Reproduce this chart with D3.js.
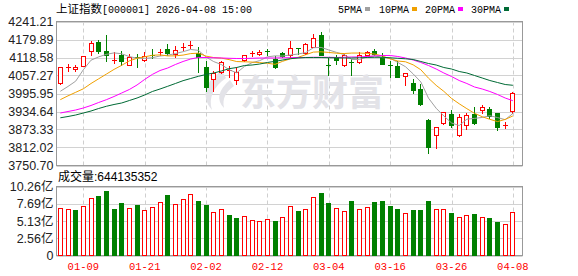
<!DOCTYPE html>
<html>
<head>
<meta charset="utf-8">
<script src="https://cdn.jsdelivr.net/npm/d3@7"></script>
<style>
body { margin: 0; background: #fff; }
svg { display: block; }
</style>
</head>
<body>
<svg width="578" height="276"></svg>
<script>
var dates = ["01-06","01-07","01-08","01-09","01-12","01-13","01-14","01-15","01-16","01-19",
  "01-20","01-21","01-22","01-23","01-26","01-27","01-28","01-29","01-30","02-02",
  "02-03","02-04","02-05","02-06","02-09","02-10","02-11","02-12","02-13","02-24",
  "02-25","02-26","02-27","03-02","03-03","03-04","03-05","03-06","03-09","03-10",
  "03-11","03-12","03-13","03-16","03-17","03-18","03-19","03-20","03-23","03-24",
  "03-25","03-26","03-27","03-30","03-31","04-01","04-02","04-03","04-07","04-08"];

var open = [4030.7,4084.0,4078.4,4090.7,4139.7,4171.4,4139.7,4110.2,4126.1,4094.1,
  4119.3,4109.1,4128.1,4136.3,4148.6,4130.5,4153.3,4161.3,4132.9,4085.2,
  4046.4,4069.2,4073.2,4041.9,4110.1,4132.3,4130.5,4139.9,4114.5,4132.9,
  4128.1,4151.5,4132.9,4155.4,4196.2,4091.8,4116.9,4092.0,4101.6,4103.2,
  4128.1,4139.7,4116.9,4091.8,4089.6,4055.6,4030.7,4010.3,3905.7,3853.6,
  3894.5,3926.2,3853.6,3887.7,3926.2,3939.8,3942.2,3928.5,3888.5,3935.4];
var close = [4085.2,4086.0,4085.2,4122.7,4168.0,4141.8,4128.1,4111.5,4107.7,4119.3,
  4115.9,4122.7,4123.7,4137.5,4132.9,4144.1,4154.5,4162.5,4121.3,4019.1,
  4066.8,4103.2,4074.4,4069.2,4126.1,4133.5,4137.3,4138.5,4085.2,4123.7,
  4152.0,4150.8,4164.6,4185.0,4128.1,4090.6,4111.1,4128.1,4100.6,4126.1,
  4137.3,4130.5,4096.5,4090.6,4053.2,4064.8,4007.9,3960.2,3814.8,3880.9,
  3933.0,3889.7,3914.9,3923.8,3894.5,3949.0,3919.3,3882.9,3889.5,3998.7];
var high = [4086.5,4096.5,4092.0,4124.5,4173.8,4179.2,4196.2,4137.3,4141.8,4130.5,
  4130.5,4137.3,4146.5,4146.5,4164.6,4157.8,4169.0,4175.8,4155.4,4105.6,
  4071.6,4107.7,4089.6,4085.2,4128.1,4139.7,4144.1,4146.5,4123.7,4137.3,
  4173.8,4152.0,4169.0,4198.6,4205.4,4116.9,4126.1,4130.5,4112.5,4137.3,
  4140.7,4146.5,4134.9,4105.6,4105.6,4065.5,4044.3,4028.3,3908.1,3881.5,
  3934.5,3939.8,3926.2,3930.6,3949.0,3957.8,3951.0,3929.0,3898.9,3999.5];
var low = [4029.5,4073.6,4071.6,4089.0,4128.1,4133.9,4107.7,4099.9,4094.1,4091.4,
  4085.2,4108.0,4117.0,4128.1,4128.1,4119.3,4144.1,4151.0,4069.2,4003.5,
  4005.5,4066.8,4053.2,4028.3,4105.6,4123.7,4126.1,4128.1,4082.8,4119.3,
  4121.3,4130.5,4130.5,4153.3,4126.1,4060.0,4096.5,4091.0,4060.0,4100.9,
  4126.1,4126.1,4095.5,4051.0,4052.0,4025.9,3998.7,3957.8,3794.3,3810.3,
  3893.0,3882.9,3852.5,3876.1,3892.1,3930.6,3912.5,3871.6,3878.5,3930.6];
var prevClose = 4030.0;

// 成交量, 亿
var volume = [7.01,6.86,6.76,7.31,8.51,8.86,9.61,6.91,7.81,7.01,
  7.51,6.71,7.16,7.91,9.01,7.66,8.36,9.16,8.11,7.51,
  6.41,6.86,6.01,5.56,5.81,5.21,5.06,5.36,5.11,5.66,
  7.31,6.61,6.86,8.66,9.31,7.81,7.01,6.56,8.11,6.86,
  7.16,7.96,8.11,7.36,6.91,6.31,6.76,6.76,8.11,6.86,
  6.86,6.31,5.66,5.96,6.16,5.66,5.56,4.96,4.75,6.44];

var ma5 = [4003.5,4020.0,4038.0,4077.0,4109.4,4120.7,4129.2,4134.3,4131.3,4121.6,
  4116.4,4115.3,4117.9,4123.7,4126.4,4132.1,4138.3,4146.0,4142.9,4120.1,
  4104.6,4094.5,4076.9,4066.5,4087.9,4101.1,4107.9,4120.9,4124.1,4123.6,
  4127.2,4130.4,4135.5,4152.0,4153.0,4144.3,4136.0,4128.7,4111.9,4111.5,
  4120.7,4124.6,4118.3,4116.3,4101.7,4087.2,4062.7,4035.4,3980.2,3945.7,
  3919.4,3895.7,3886.7,3908.5,3911.2,3914.4,3920.3,3913.9,3906.9,3927.8];
var ma10 = [3975.0,3988.0,4000.0,4012.0,4030.0,4046.0,4062.0,4078.0,4092.0,4107.0,
  4116.0,4121.0,4126.1,4127.5,4124.0,4124.2,4126.8,4131.9,4133.3,4123.3,
  4118.4,4116.4,4111.4,4104.7,4104.0,4102.9,4101.2,4098.9,4095.3,4105.8,
  4114.2,4119.1,4128.2,4137.0,4138.0,4135.8,4133.2,4132.1,4133.7,4133.9,
  4132.5,4130.3,4123.5,4114.1,4106.6,4104.0,4093.6,4076.9,4048.2,4023.7,
  4003.3,3979.2,3961.0,3944.3,3928.5,3916.9,3908.0,3900.3,3907.7,3919.5];
var ma20 = [3929.5,3934.6,3939.7,3946.6,3955.1,3965.3,3974.8,3985.7,3997.7,4009.6,
  4025.0,4044.0,4061.0,4074.3,4082.8,4094.7,4105.0,4113.5,4118.6,4118.6,
  4117.6,4116.9,4115.9,4115.2,4115.2,4115.9,4116.9,4116.9,4116.9,4117.6,
  4117.9,4118.6,4118.6,4119.3,4119.3,4119.3,4118.6,4119.3,4120.3,4120.3,
  4122.0,4123.7,4125.4,4125.4,4122.0,4116.9,4110.1,4101.6,4091.3,4079.4,
  4065.8,4053.9,4040.2,4030.0,4018.1,4011.3,4002.8,3992.6,3980.6,3971.4];
var ma30 = [3913.2,3917.6,3922.7,3929.5,3936.3,3944.9,3952.4,3958.5,3963.6,3972.1,
  3980.6,3990.9,4002.8,4011.3,4020.5,4030.0,4039.6,4047.1,4054.5,4060.7,
  4065.8,4072.6,4080.4,4084.5,4091.3,4093.0,4096.4,4101.6,4105.6,4110.1,
  4114.5,4116.9,4118.6,4118.6,4118.6,4117.9,4117.6,4116.9,4116.9,4117.6,
  4118.6,4119.3,4119.3,4117.6,4115.9,4114.2,4111.8,4105.0,4098.1,4093.0,
  4084.5,4079.4,4070.9,4065.8,4057.3,4048.8,4040.2,4033.4,4026.6,4023.9];

var priceTicks = [4241.21, 4179.89, 4118.58, 4057.27, 3995.95, 3934.64, 3873.33, 3812.02, 3750.70];
var volTicks = [10.26, 7.69, 5.13, 2.56, 0];
var xTickLabels = ["01-09", "01-21", "02-02", "02-12", "03-04", "03-16", "03-26", "04-08"];
var maNames = ["5PMA", "10PMA", "20PMA", "30PMA"];
var lastVolume = "644135352";

var maColors = ['#a0a0a0', '#f0a000', '#ff00ff', '#006a35'];
var UP = '#ff0000', DOWN = '#008000';

var svg = d3.select('svg');
var L = 56.5, R = 522.5;

var x = d3.scaleBand()
  .domain(d3.range(dates.length))
  .range([L, L + 7.67 * dates.length])
  .paddingInner(0.35)
  .paddingOuter(0.175);
var cx = function (i) { return x(i) + x.bandwidth() / 2; };

var y = d3.scaleLinear().domain([3750.70, 4241.21]).range([165.5, 21.5]);
var yv = d3.scaleLinear().domain([0, 10.26]).range([255.5, 186.5]);

/* ----------- frames & grid ----------- */

function grid(scale, ticks, top, bottom) {
  svg.append('g').selectAll('line.h').data(ticks).enter().append('line')
    .attr('x1', L).attr('x2', R)
    .attr('y1', function (d) { return Math.round(scale(d)) + 0.5; })
    .attr('y2', function (d) { return Math.round(scale(d)) + 0.5; })
    .attr('stroke', '#d2d2d2');
  svg.append('g').selectAll('line.v').data(xTickLabels).enter().append('line')
    .attr('x1', function (d) { return Math.round(cx(dates.indexOf(d))) + 0.5; })
    .attr('x2', function (d) { return Math.round(cx(dates.indexOf(d))) + 0.5; })
    .attr('y1', top).attr('y2', bottom)
    .attr('stroke', '#cfcfcf')
    .attr('stroke-dasharray', '4,3');
  svg.append('rect')
    .attr('x', L).attr('y', top)
    .attr('width', R - L).attr('height', bottom - top)
    .attr('fill', 'none').attr('stroke', '#999');
}
grid(y, priceTicks, 21.5, 165.5);
grid(yv, volTicks, 186.5, 255.5);

var yAxis = d3.axisLeft(y).tickValues(priceTicks).tickSize(0).tickPadding(3).tickFormat(d3.format('.2f'));
svg.append('g').attr('transform', 'translate(' + L + ',0)').call(yAxis)
  .call(function (g) { g.select('.domain').remove(); })
  .selectAll('text').attr('font-family', 'Liberation Sans, Arial, sans-serif').attr('font-size', 12.5).attr('fill', '#222');

var vAxis = d3.axisLeft(yv).tickValues(volTicks).tickSize(0).tickPadding(3)
  .tickFormat(function (d) { return d === 0 ? '0' : d.toFixed(2) + '亿'; });
svg.append('g').attr('transform', 'translate(' + L + ',0)').call(vAxis)
  .call(function (g) { g.select('.domain').remove(); })
  .selectAll('text').attr('font-family', 'Liberation Sans, Noto Sans CJK SC, sans-serif').attr('font-size', 12.5).attr('fill', '#222');

var xAxis = d3.axisBottom(x).tickValues(xTickLabels.map(function (d) { return dates.indexOf(d); }))
  .tickSize(0).tickPadding(7).tickFormat(function (i) { return dates[i]; });
svg.append('g').attr('transform', 'translate(0,255.5)').call(xAxis)
  .call(function (g) { g.select('.domain').remove(); })
  .selectAll('text').attr('font-family', 'Liberation Mono, monospace').attr('font-size', 10.5).attr('fill', '#ff0000');

/* ----------- watermark ----------- */

var wm = svg.append('g').attr('fill', '#e3e3e8');
wm.append('path').attr('d', 'M222,71 C206,80 200,96 212,110 C208,98 214,86 226,78 Z M230,80 C218,90 216,100 224,108 C222,98 226,92 234,86 Z');
wm.append('text').attr('x', 240).attr('y', 106).attr('font-family', 'Noto Sans CJK SC').attr('font-weight', 'bold')
  .attr('font-size', 36).attr('letter-spacing', 0).text('东方财富');

/* ----------- candles ----------- */

var idx = d3.range(dates.length);
var candles = svg.append('g').selectAll('g').data(idx).enter().append('g');
candles.each(function (i) {
  var g = d3.select(this);
  var up = close[i] >= open[i];
  var col = up ? UP : DOWN;
  var r = Math.round(cx(i) - 2.5);
  var yt = Math.round(y(Math.max(open[i], close[i])));
  var yb = Math.round(y(Math.min(open[i], close[i])));
  g.append('line')
    .attr('x1', r + 2.5).attr('x2', r + 2.5)
    .attr('y1', Math.round(y(high[i]))).attr('y2', Math.round(y(low[i])) + 1)
    .attr('stroke', col);
  if (yb - yt < 2) {
    g.append('rect').attr('x', r).attr('y', yt).attr('width', 5).attr('height', 1).attr('fill', col);
  } else if (up) {
    g.append('rect').attr('x', r + 0.5).attr('y', yt + 0.5).attr('width', 4).attr('height', yb - yt)
      .attr('fill', '#fff').attr('stroke', col);
  } else {
    g.append('rect').attr('x', r).attr('y', yt).attr('width', 5).attr('height', yb - yt + 1).attr('fill', col);
  }
});

/* ----------- moving averages ----------- */

[ma5, ma10, ma20, ma30].forEach(function (arr, k) {
  svg.append('path')
    .datum(arr)
    .attr('fill', 'none')
    .attr('stroke', maColors[k])
    .attr('stroke-width', 1)
    .attr('d', d3.line().x(function (d, i) { return cx(i); }).y(function (d) { return y(d); }));
});

/* ----------- volume ----------- */

svg.append('g').selectAll('rect').data(idx).enter().append('rect')
  .each(function (i) {
    var up = close[i] >= (i === 0 ? prevClose : close[i - 1]);
    var r = Math.round(cx(i) - 2.5);
    var t = Math.round(yv(volume[i]));
    var s = d3.select(this);
    if (up) {
      s.attr('x', r + 0.5).attr('y', t + 0.5).attr('width', 4).attr('height', 255 - t)
        .attr('fill', '#fff').attr('stroke', UP);
    } else {
      s.attr('x', r).attr('y', t).attr('width', 5).attr('height', 256 - t).attr('fill', DOWN);
    }
  });

/* ----------- titles & legend ----------- */

var title = svg.append('text').attr('x', 56).attr('y', 13).attr('fill', '#000');
title.append('tspan').attr('font-family', 'Noto Sans CJK SC').attr('font-size', 11.5).text('上证指数');
title.append('tspan').attr('font-family', 'Liberation Mono, monospace').attr('font-size', 10).text('[000001] 2026-04-08 15:00');

var legendX = [338, 379, 425, 471];
var leg = svg.append('g').selectAll('g').data(maNames).enter().append('g')
  .attr('transform', function (d, k) { return 'translate(' + legendX[k] + ',0)'; });
leg.append('text').attr('y', 13).attr('font-family', 'Liberation Mono, monospace').attr('font-size', 10)
  .attr('fill', '#000').text(function (d) { return d; });
leg.append('rect').attr('x', function (d) { return d.length * 6 + 3; }).attr('y', 7)
  .attr('width', 5).attr('height', 4).attr('fill', function (d, k) { return maColors[k]; });

var vt = svg.append('text').attr('x', 58).attr('y', 181).attr('fill', '#000');
vt.append('tspan').attr('font-family', 'Noto Sans CJK SC').attr('font-size', 12).text('成交量');
vt.append('tspan').attr('font-family', 'Liberation Sans, Arial, sans-serif').attr('font-size', 12).text(':' + lastVolume);
</script>
</body>
</html>
